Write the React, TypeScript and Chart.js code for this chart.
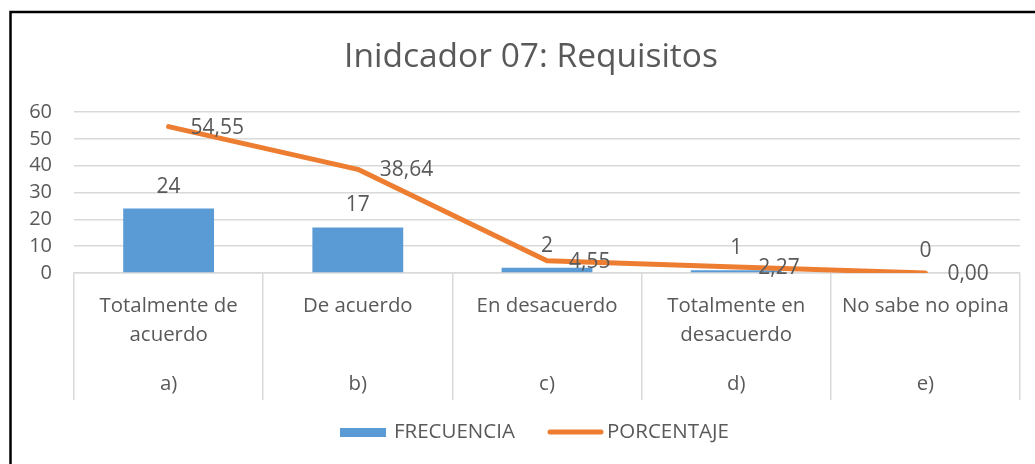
import React, { useEffect, useRef } from "react";
import { Chart, registerables } from "chart.js";

Chart.register(...registerables);

const titleText = "Inidcador 07: Requisitos";
const categoryLines: string[][] = [
  ["Totalmente de", "acuerdo"],
  ["De acuerdo"],
  ["En desacuerdo"],
  ["Totalmente en", "desacuerdo"],
  ["No sabe no opina"],
];
const subLabels = ["a)", "b)", "c)", "d)", "e)"];
const frecuencia = [24, 17, 2, 1, 0];
const porcentaje = [54.55, 38.64, 4.55, 2.27, 0.0];
const yMin = 0;
const yMax = 60;
const yStep = 10;

const FONT = "'Open Sans', sans-serif";
const TEXT = "#595959";
const GRID = "#d9d9d9";
const BLUE = "#5b9bd5";
const ORANGE = "#ed7d31";

const fmt = (v: number) => v.toFixed(2).replace(".", ",");

const decorPlugin = {
  id: "decor",
  beforeDraw(chart: any) {
    const ctx = chart.ctx;
    ctx.save();
    ctx.fillStyle = "#fff";
    ctx.fillRect(0, 0, chart.width, chart.height);
    ctx.strokeStyle = "#000";
    ctx.lineWidth = 2.5;
    ctx.beginPath();
    ctx.moveTo(10.5, chart.height);
    ctx.lineTo(10.5, 12);
    ctx.lineTo(chart.width, 12);
    ctx.stroke();
    // title
    ctx.fillStyle = TEXT;
    ctx.font = `33.5px ${FONT}`;
    ctx.textAlign = "center";
    ctx.textBaseline = "middle";
    ctx.fillText(titleText, 531, 57);
    ctx.restore();
  },
  afterDraw(chart: any) {
    const ctx = chart.ctx;
    const xs = chart.scales.x;
    const top = xs.top;
    ctx.save();
    ctx.fillStyle = TEXT;
    ctx.textAlign = "center";
    ctx.textBaseline = "middle";
    ctx.font = `20.4px ${FONT}`;
    categoryLines.forEach((lines, i) => {
      const x = xs.getPixelForValue(i);
      lines.forEach((ln, j) => ctx.fillText(ln, x, top + 33 + j * 29));
      ctx.fillText(subLabels[i], x, top + 111);
    });
    // legend
    const ly = 432;
    ctx.fillStyle = BLUE;
    ctx.fillRect(340, ly - 4, 46, 9);
    ctx.fillStyle = TEXT;
    ctx.textAlign = "left";
    ctx.font = `20.5px ${FONT}`;
    ctx.fillText("FRECUENCIA", 394, ly);
    ctx.strokeStyle = ORANGE;
    ctx.lineWidth = 5;
    ctx.lineCap = "round";
    ctx.beginPath();
    ctx.moveTo(550, ly);
    ctx.lineTo(601, ly);
    ctx.stroke();
    ctx.fillText("PORCENTAJE", 607, ly);
    ctx.restore();
  },
  afterDatasetsDraw(chart: any) {
    const ctx = chart.ctx;
    ctx.save();
    ctx.fillStyle = TEXT;
    ctx.font = `21px ${FONT}`;
    ctx.textBaseline = "middle";
    chart.data.datasets.forEach((ds: any, di: number) => {
      const meta = chart.getDatasetMeta(di);
      meta.data.forEach((el: any, i: number) => {
        const v = ds.data[i];
        if (ds.type === "bar") {
          ctx.textAlign = "center";
          ctx.fillText(String(v), el.x, el.y - 22);
        } else {
          ctx.textAlign = "left";
          ctx.fillText(fmt(v), el.x + 22, el.y + 1);
        }
      });
    });
    ctx.restore();
  },
};

export default function App() {
  const ref = useRef<HTMLCanvasElement | null>(null);
  useEffect(() => {
    if (!ref.current) return;
    const chart = new Chart(ref.current, {
      type: "bar",
      data: {
        labels: categoryLines.map((l) => l.join(" ")),
        datasets: [
          {
            type: "line",
            label: "PORCENTAJE",
            data: porcentaje,
            borderColor: ORANGE,
            backgroundColor: ORANGE,
            borderWidth: 5,
            pointRadius: 0,
            borderCapStyle: "round",
            borderJoinStyle: "round",
            order: 0,
          } as any,
          {
            type: "bar",
            label: "FRECUENCIA",
            data: frecuencia,
            backgroundColor: BLUE,
            categoryPercentage: 1,
            barPercentage: 0.48,
            order: 1,
          } as any,
        ],
      },
      options: {
        animation: false,
        responsive: false,
        maintainAspectRatio: false,
        layout: { padding: { top: 112, left: 0, right: 15, bottom: 64 } },
        plugins: {
          legend: { display: false },
          title: { display: false },
          tooltip: { enabled: false },
        },
        scales: {
          x: {
            grid: {
              offset: true,
              drawOnChartArea: false,
              tickLength: 127,
              color: GRID,
              lineWidth: 1.5,
            },
            border: { display: true, color: GRID, width: 1.5 },
            ticks: { display: false },
          },
          y: {
            min: yMin,
            max: yMax,
            afterFit: (s: any) => {
              s.width = 74;
            },
            ticks: {
              stepSize: yStep,
              autoSkip: false,
              color: TEXT,
              font: { family: FONT, size: 20 },
              padding: 22,
            },
            grid: { color: GRID, drawTicks: false, lineWidth: 1.5 },
            border: { display: false },
          },
        },
      },
      plugins: [decorPlugin],
    });
    return () => chart.destroy();
  }, []);
  return (
    <div style={{ position: "fixed", left: 0, top: 0, width: 1035, height: 464 }}>
      <canvas ref={ref} width={1035} height={464} style={{ width: 1035, height: 464 }} />
    </div>
  );
}
